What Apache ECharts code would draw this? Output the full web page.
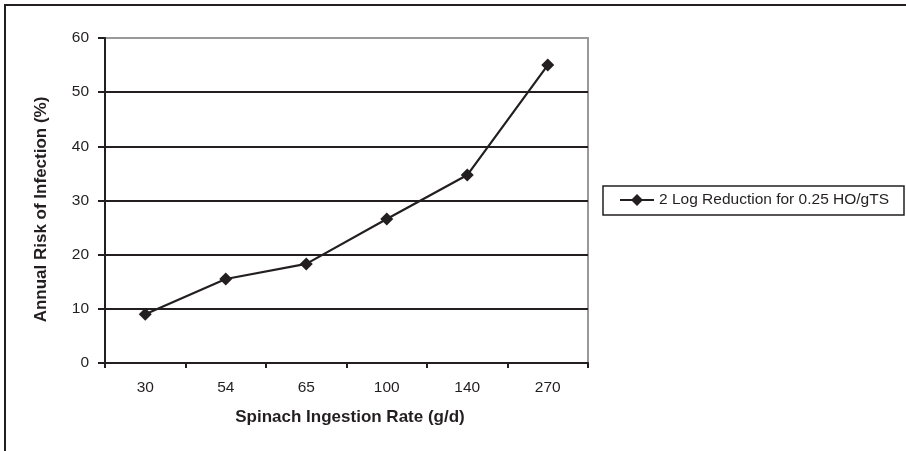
<!DOCTYPE html>
<html>
<head>
<meta charset="utf-8">
<script src="https://cdn.jsdelivr.net/npm/echarts@6/dist/echarts.min.js"></script>
<style>
html,body{margin:0;padding:0;background:#fff;}
#chart{width:906px;height:451px;}
</style>
</head>
<body>
<div id="chart"></div>
<script>
var categories = ['30', '54', '65', '100', '140', '270'];
var riskValues = [9.0, 15.5, 18.3, 26.6, 34.7, 55.0];
var seriesName = '2 Log Reduction for 0.25 HO/gTS';
var xTitle = 'Spinach Ingestion Rate (g/d)';
var yTitle = 'Annual Risk of Infection (%)';

var dark = '#231f20';
var chart = echarts.init(document.getElementById('chart'));
chart.setOption({
  animation: false,
  backgroundColor: '#fff',
  textStyle: { fontFamily: 'Liberation Sans, Arial, sans-serif' },
  graphic: [
    { type: 'rect', shape: { x: 5, y: 5, width: 1000, height: 600 }, style: { fill: 'none', stroke: dark, lineWidth: 2 } },
    { type: 'rect', shape: { x: 603, y: 186, width: 301, height: 29 }, style: { fill: '#fff', stroke: dark, lineWidth: 1.5 }, z: 0 }
  ],
  grid: { left: 105, right: 318, top: 38, bottom: 88, show: true, borderColor: '#999', borderWidth: 2, containLabel: false },
  legend: {
    left: 619, top: 192, padding: 0, itemWidth: 34, itemHeight: 15, itemGap: 0,
    data: [seriesName],
    textStyle: { fontSize: 15.5, color: dark, fontFamily: 'Liberation Sans, Arial, sans-serif' }
  },
  xAxis: {
    type: 'category', data: categories, boundaryGap: true,
    name: xTitle, nameLocation: 'middle', nameGap: 46,
    nameTextStyle: { fontSize: 17, fontWeight: 'bold', color: dark, padding: [0, 0, 0, 7] },
    axisLine: { lineStyle: { color: dark, width: 2 } },
    axisTick: { show: true, alignWithLabel: false, length: 5, lineStyle: { color: dark, width: 2 } },
    axisLabel: { fontSize: 15.5, color: dark, margin: 17 },
    splitLine: { show: false }
  },
  yAxis: {
    type: 'value', min: 0, max: 60, interval: 10,
    name: yTitle, nameLocation: 'middle', nameGap: 55,
    nameTextStyle: { fontSize: 17, fontWeight: 'bold', color: dark, padding: [0, 18, 0, 0] },
    axisLine: { show: true, lineStyle: { color: dark, width: 2 } },
    axisTick: { show: true, length: 7, lineStyle: { color: dark, width: 2 } },
    axisLabel: { fontSize: 15.5, color: dark, margin: 16 },
    splitLine: { show: true, lineStyle: { color: [dark, dark, dark, dark, dark, dark, '#999'], width: 2 } }
  },
  series: [{
    name: seriesName, type: 'line', data: riskValues,
    symbol: 'diamond', symbolSize: 13,
    lineStyle: { color: dark, width: 2.2 },
    itemStyle: { color: dark },
    z: 5
  }]
});
</script>
</body>
</html>
